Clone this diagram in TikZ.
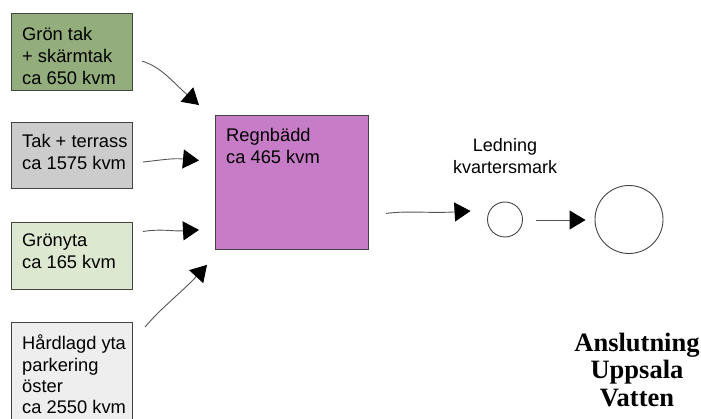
\documentclass[tikz,border=0pt]{standalone}
\usepackage{fontspec}
\setmainfont{Liberation Sans}
\newfontfamily\timesfont{Liberation Serif}
\usetikzlibrary{arrows.meta,calc}
\definecolor{cgreen}{HTML}{93AE7C}
\definecolor{cgray}{HTML}{CCCCCC}
\definecolor{clgreen}{HTML}{DCE8CF}
\definecolor{clgray}{HTML}{EEEEEE}
\definecolor{cviolet}{HTML}{C77CC8}
\definecolor{cedge}{HTML}{444444}
\definecolor{cline}{HTML}{555555}
\tikzset{
  srcbox/.style={draw=cedge, line width=0.9pt, rectangle, anchor=north west,
    minimum width=121pt, inner sep=0pt, outer sep=0pt},
  boxtext/.style={anchor=north west, align=left, inner sep=0pt,
    font=\fontsize{18.3}{22}\selectfont},
  arr/.style={draw=cline, line width=0.9pt,
    -{Triangle[length=16pt,width=19pt,fill=black,color=black]}},
  ring/.style={circle, draw=cedge, line width=0.9pt, inner sep=0pt}
}
\begin{document}
\begin{tikzpicture}[x=1pt,y=-1pt]
\useasboundingbox (0,0) rectangle (701,419);
\clip (0,0) rectangle (701,419);
% source boxes
\node[srcbox, fill=cgreen, minimum height=77pt] (b1) at (11,13) {};
\node[boxtext] (t1) at (22,27) {Grön tak\\+ skärmtak\\ca 650 kvm};
\node[srcbox, fill=cgray, minimum height=66pt] (b2) at (11,122) {};
\node[boxtext] (t2) at (22,134) {Tak + terrass\\ca 1575 kvm};
\node[srcbox, fill=clgreen, minimum height=67pt] (b3) at (11,222) {};
\node[boxtext] (t3) at (22,234) {Grönyta\\ca 165 kvm};
\node[srcbox, fill=clgray, minimum height=120pt] (b4) at (11,322) {};
\node[boxtext, font=\fontsize{18.3}{21.2}\selectfont] (t4) at (22,335) {Hårdlagd yta\\parkering\\öster\\ca 2550 kvm};
% rain bed
\node[draw=cedge, line width=0.9pt, fill=cviolet, anchor=north west,
  minimum width=153pt, minimum height=134pt, inner sep=0pt] (rb) at (215,115) {};
\node[boxtext] (trb) at (226,128) {Regnbädd\\ca 465 kvm};
% circles
\node[ring, minimum size=35pt] (c1) at (505,219.5) {};
\node[ring, minimum size=68pt] (c2) at (629,219.5) {};
\node[align=center, inner sep=0pt, font=\fontsize{18}{22}\selectfont] (led) at (505,156.5) {Ledning\\kvartersmark};
\node[align=center, inner sep=0pt, font=\timesfont\bfseries\fontsize{26.5}{27.5}\selectfont] (ans) at (637,370) {Anslutning\\Uppsala\\Vatten};
% connectors
\draw[arr] ($(b1.east)+(10,9.5)$) .. controls ($(b1.east)+(30,16)$) and ($(b1.east)+(40,30)$) .. ($(rb.north west)+(-16,-10)$);
\draw[arr] ($(b2.east)+(11,7)$) .. controls ($(b2.east)+(30,5)$) and ($(b2.east)+(40,3)$) .. ($(rb.west)+(-16,-22)$);
\draw[arr] ($(b3.east)+(11,-24)$) .. controls ($(b3.east)+(30,-27)$) and ($(b3.east)+(40,-24)$) .. ($(rb.south west)+(-16,-20)$);
\draw[arr] ($(b4.north east)+(13,5)$) .. controls ($(b4.north east)+(30,-15)$) and ($(b4.north east)+(50,-30)$) .. ($(rb.south west)+(-8,15)$);
\draw[arr] ($(rb.east)+(17,31)$) .. controls ($(rb.east)+(40,28)$) and ($(rb.east)+(60,31)$) .. ($(c1.west)+(-16.5,-8.5)$);
\draw[arr] ($(c1.east)+(13.5,0.5)$) -- ($(c2.west)+(-9,0.5)$);
\end{tikzpicture}
\end{document}
